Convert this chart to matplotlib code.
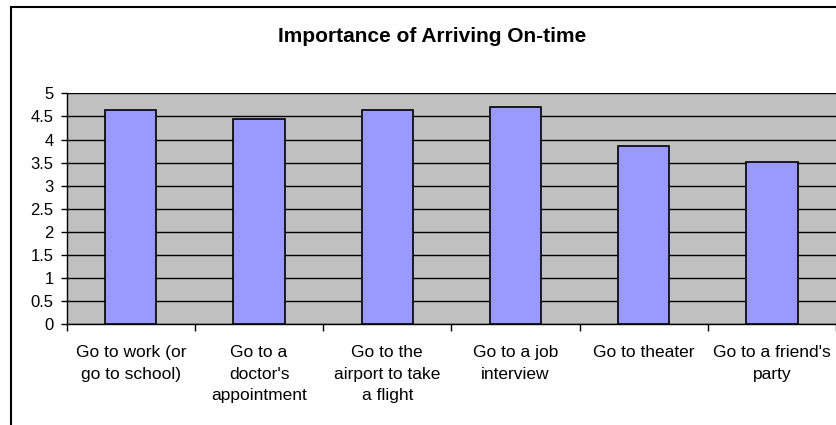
import matplotlib.pyplot as plt
from matplotlib.lines import Line2D

# Data
categories = ["Go to work (or\ngo to school)", "Go to a\ndoctor's\nappointment",
              "Go to the\nairport to take\na flight", "Go to a job\ninterview",
              "Go to theater", "Go to a friend's\nparty"]
ratings = [4.63, 4.45, 4.63, 4.71, 3.86, 3.52]
y_ticks = [0, 0.5, 1, 1.5, 2, 2.5, 3, 3.5, 4, 4.5, 5]

plt.rcParams['font.family'] = ['Liberation Sans', 'DejaVu Sans']

fig = plt.figure(figsize=(8.37, 4.25), dpi=100)
ax = fig.add_axes([66.7 / 837, 1 - 324.3 / 425, 769.3 / 837, 231 / 425])

ax.set_facecolor('#C0C0C0')
x = list(range(len(categories)))
ax.bar(x, ratings, width=0.4, color='#9999FF', edgecolor='black', linewidth=1.2, zorder=3)

ax.set_ylim(0, 5)
ax.set_xlim(-0.5, len(categories) - 0.5)
ax.set_yticks(y_ticks)
ax.set_yticklabels([f'{v:g}' for v in y_ticks], fontsize=12)
ax.yaxis.grid(True, color='black', linewidth=1)
ax.set_axisbelow(True)

# category labels at centres, tick marks at boundaries
ax.set_xticks(x)
ax.set_xticklabels(categories, fontsize=12.5, linespacing=1.55, va='top')
ax.tick_params(axis='x', length=0, pad=15)
ax.set_xticks([i - 0.5 for i in range(len(categories) + 1)], minor=True)
ax.tick_params(axis='x', which='minor', length=5, width=1, direction='out')
ax.tick_params(axis='y', length=4.5, width=1, direction='out', pad=5)

for s in ['top', 'right']:
    ax.spines[s].set_visible(False)
ax.spines['left'].set_linewidth(1)
ax.spines['bottom'].set_linewidth(1)

fig.text(432 / 837, 1 - 37 / 425, 'Importance of Arriving On-time', ha='center', va='center',
         fontsize=15, fontweight='bold')

# chart frame (partly outside the image)
fig.add_artist(Line2D([11 / 837, 11 / 837], [0, 1 - 7 / 425], color='black', linewidth=1.5,
                      transform=fig.transFigure))
fig.add_artist(Line2D([11 / 837, 1], [1 - 7 / 425, 1 - 7 / 425], color='black', linewidth=1.5,
                      transform=fig.transFigure))

plt.savefig('out.png', dpi=100)
